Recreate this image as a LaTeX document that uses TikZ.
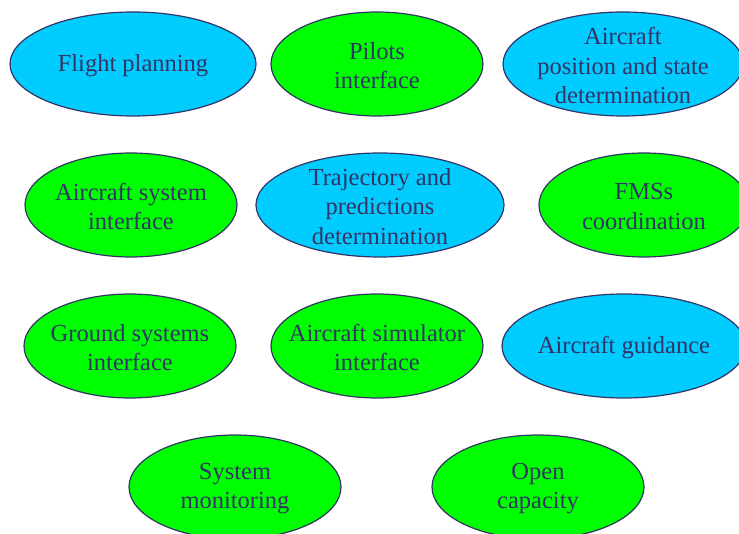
\documentclass[tikz,border=0pt]{standalone}
\usepackage{fontspec}
\setmainfont{Liberation Serif}
\usetikzlibrary{shapes.geometric}
\definecolor{inkblue}{RGB}{51,51,102}
\definecolor{skyfill}{RGB}{0,204,255}
\definecolor{limefill}{RGB}{0,255,0}
\begin{document}
\begin{tikzpicture}[x=1pt,y=-1pt,
  caption/.style={text=inkblue, align=center, inner sep=0pt,
    font=\fontsize{24.5}{29.5}\selectfont},
  bubble/.style={ellipse, draw=inkblue, line width=1.2pt, inner sep=0pt,
    minimum height=104pt, label={[caption,yshift=-1.5pt]center:#1}},
  bluebubble/.style={bubble={#1}, fill=skyfill},
  greenbubble/.style={bubble={#1}, fill=limefill}]
\useasboundingbox (0,0) rectangle (739,534);
% row 1
\node[bluebubble={Flight planning}, minimum width=246pt] (plan) at (133,64) {};
\node[greenbubble={Pilots\\interface}, minimum width=212pt] (pilots) at (377,64) {};
\node[bluebubble={Aircraft\\position and state\\determination}, minimum width=240pt] (position) at (623,64) {};
% row 2
\node[greenbubble={Aircraft system\\interface}, minimum width=212pt] (acsys) at (131,205) {};
\node[bluebubble={Trajectory and\\predictions\\determination}, minimum width=248pt] (traj) at (380,205) {};
\node[greenbubble={FMSs\\coordination}, minimum width=210pt] (fmss) at (644,205) {};
% row 3
\node[greenbubble={Ground systems\\interface}, minimum width=212pt] (ground) at (130,346) {};
\node[greenbubble={Aircraft simulator\\interface}, minimum width=212pt] (sim) at (377,346) {};
\node[bluebubble={Aircraft guidance}, minimum width=244pt] (guidance) at (624,346) {};
% row 4
\node[greenbubble={System\\monitoring}, minimum width=212pt] (monitor) at (235,487) {};
\node[greenbubble={Open\\capacity}, minimum width=212pt] (capacity) at (538,487) {};
\end{tikzpicture}
\end{document}
